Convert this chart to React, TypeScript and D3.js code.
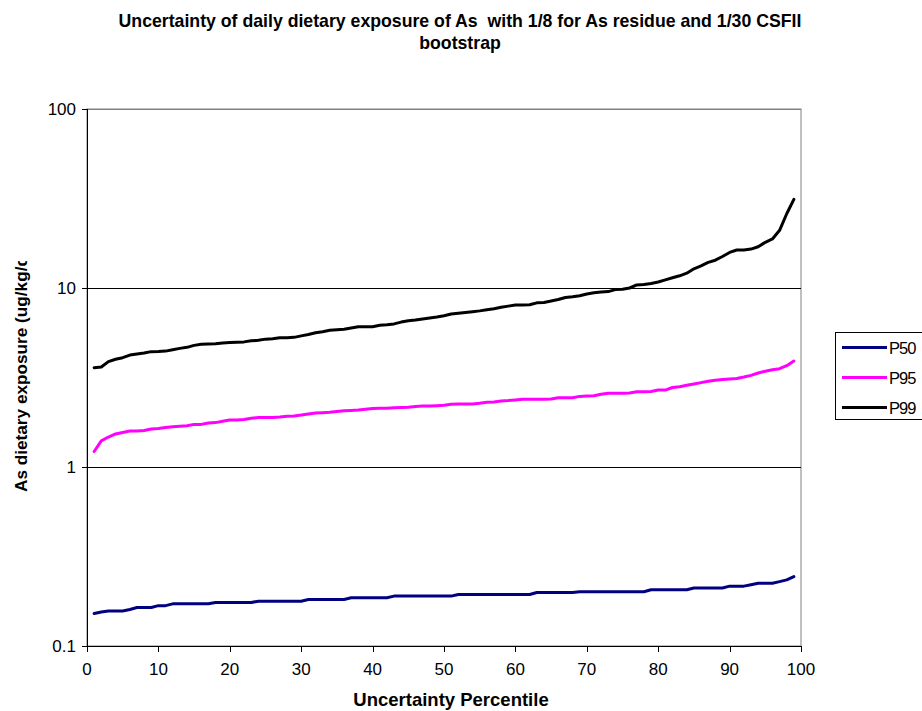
import React from "react";
import * as d3 from "d3";

const percentiles: number[] = Array.from({ length: 99 }, (_, i) => i + 1);

const p50: number[] = [
  0.152, 0.155, 0.157, 0.157, 0.157, 0.160, 0.164, 0.164, 0.164, 0.168,
  0.168, 0.172, 0.172, 0.172, 0.172, 0.172, 0.172, 0.175, 0.175, 0.175,
  0.175, 0.175, 0.175, 0.178, 0.178, 0.178, 0.178, 0.178, 0.178, 0.178,
  0.182, 0.182, 0.182, 0.182, 0.182, 0.182, 0.186, 0.186, 0.186, 0.186,
  0.186, 0.186, 0.190, 0.190, 0.190, 0.190, 0.190, 0.190, 0.190, 0.190,
  0.190, 0.194, 0.194, 0.194, 0.194, 0.194, 0.194, 0.194, 0.194, 0.194,
  0.194, 0.194, 0.199, 0.199, 0.199, 0.199, 0.199, 0.199, 0.201, 0.201,
  0.201, 0.201, 0.201, 0.201, 0.201, 0.201, 0.201, 0.201, 0.206, 0.206,
  0.206, 0.206, 0.206, 0.206, 0.211, 0.211, 0.211, 0.211, 0.211, 0.216,
  0.216, 0.216, 0.220, 0.224, 0.224, 0.224, 0.229, 0.234, 0.244,
];

const p95: number[] = [
  1.22, 1.40, 1.47, 1.53, 1.56, 1.59, 1.59, 1.60, 1.63, 1.64,
  1.66, 1.68, 1.69, 1.70, 1.73, 1.73, 1.76, 1.77, 1.80, 1.83,
  1.83, 1.84, 1.87, 1.89, 1.89, 1.89, 1.90, 1.92, 1.93, 1.95,
  1.98, 2.00, 2.01, 2.02, 2.04, 2.06, 2.07, 2.08, 2.10, 2.12,
  2.13, 2.13, 2.14, 2.15, 2.16, 2.18, 2.19, 2.19, 2.20, 2.21,
  2.24, 2.25, 2.25, 2.25, 2.27, 2.30, 2.31, 2.34, 2.35, 2.37,
  2.39, 2.39, 2.39, 2.39, 2.40, 2.44, 2.44, 2.44, 2.48, 2.49,
  2.50, 2.55, 2.58, 2.58, 2.58, 2.59, 2.63, 2.63, 2.64, 2.69,
  2.69, 2.78, 2.81, 2.86, 2.91, 2.96, 3.01, 3.05, 3.08, 3.10,
  3.12, 3.18, 3.25, 3.35, 3.43, 3.49, 3.54, 3.68, 3.91,
];

const p99: number[] = [
  3.59, 3.62, 3.88, 4.00, 4.08, 4.22, 4.28, 4.33, 4.41, 4.42,
  4.44, 4.52, 4.60, 4.66, 4.78, 4.85, 4.87, 4.88, 4.93, 4.96,
  4.98, 5.00, 5.07, 5.10, 5.18, 5.20, 5.27, 5.28, 5.30, 5.40,
  5.50, 5.62, 5.70, 5.80, 5.84, 5.88, 5.98, 6.08, 6.08, 6.08,
  6.20, 6.24, 6.30, 6.45, 6.56, 6.62, 6.72, 6.80, 6.88, 7.00,
  7.15, 7.22, 7.30, 7.37, 7.45, 7.55, 7.65, 7.80, 7.92, 8.04,
  8.04, 8.06, 8.26, 8.30, 8.45, 8.62, 8.85, 8.94, 9.05, 9.25,
  9.40, 9.50, 9.55, 9.80, 9.85, 10.0, 10.4, 10.45, 10.6, 10.8,
  11.1, 11.4, 11.7, 12.1, 12.8, 13.3, 13.9, 14.3, 15.0, 15.8,
  16.3, 16.3, 16.5, 17.0, 18.0, 18.8, 21.0, 26.0, 31.3,
];

const seriesNames: string[] = ["P50", "P95", "P99"];
const seriesColors: string[] = ["#000080", "#FF00FF", "#000000"];
const xTicks: number[] = [0, 10, 20, 30, 40, 50, 60, 70, 80, 90, 100];
const yTicks: number[] = [0.1, 1, 10, 100];
const yTickLabels: string[] = ["0.1", "1", "10", "100"];

const titleLine1 = "Uncertainty of daily dietary exposure of As  with 1/8 for As residue and 1/30 CSFII";
const titleLine2 = "bootstrap";
const xTitle = "Uncertainty Percentile";
const yTitle = "As dietary exposure (ug/kg/day)";

const W = 922;
const H = 711;
const L = 87;
const R = 801;
const T = 109;
const B = 646;
const FONT = "Arial, 'Liberation Sans', sans-serif";

export default function App() {
  const x = d3.scaleLinear().domain([0, 100]).range([L, R]);
  const y = d3.scaleLog().domain([0.1, 100]).range([B, T]);
  const allSeries = [p50, p95, p99];
  const line = d3
    .line<number>()
    .x((_, i) => x(percentiles[i]))
    .y((v) => y(v));

  return (
    <svg
      width={W}
      height={H}
      style={{ position: "absolute", left: 0, top: 0, background: "#fff" }}
      fontFamily={FONT}
    >
      <defs>
        <clipPath id="ytclip">
          <rect x={0} y={261} width={60} height={300} />
        </clipPath>
      </defs>
      <rect x={0} y={0} width={W} height={H} fill="#fff" />
      {/* title */}
      <text x={460} y={27} textAnchor="middle" fontWeight="bold" fontSize={17.7} fill="#000" style={{ whiteSpace: "pre" }}>
        {titleLine1}
      </text>
      <text x={460} y={49} textAnchor="middle" fontWeight="bold" fontSize={17.7} fill="#000">
        {titleLine2}
      </text>

      {/* plot border */}
      <rect x={L} y={T} width={R - L} height={B - T} fill="none" stroke="#808080" strokeWidth={1} />
      {/* gridlines */}
      {yTicks.map((t) => (
        <line key={"g" + t} x1={L} x2={R} y1={Math.round(y(t)) + 0.5} y2={Math.round(y(t)) + 0.5}
          stroke={t === 100 ? "#808080" : "#000"} strokeWidth={1} />
      ))}
      {/* axes */}
      <line x1={L + 0.5} x2={L + 0.5} y1={T} y2={B + 0.5} stroke="#000" strokeWidth={1} />
      <line x1={L} x2={R} y1={B + 0.5} y2={B + 0.5} stroke="#000" strokeWidth={1} />
      {yTicks.map((t, i) => (
        <g key={"yt" + t}>
          <line x1={L - 5} x2={L} y1={Math.round(y(t)) + 0.5} y2={Math.round(y(t)) + 0.5} stroke="#000" />
          <text x={76} y={y(t) + 6} textAnchor="end" fontSize={17} fill="#000">
            {yTickLabels[i]}
          </text>
        </g>
      ))}
      {xTicks.map((t) => (
        <g key={"xt" + t}>
          <line x1={Math.round(x(t)) + 0.5} x2={Math.round(x(t)) + 0.5} y1={B} y2={B + 6} stroke="#000" />
          <text x={x(t)} y={675} textAnchor="middle" fontSize={17} fill="#000">
            {t}
          </text>
        </g>
      ))}

      {/* series */}
      {allSeries.map((s, i) => (
        <path key={seriesNames[i]} d={line(s) || ""} fill="none" stroke={seriesColors[i]}
          strokeWidth={3} strokeLinejoin="round" strokeLinecap="round" />
      ))}

      {/* axis titles */}
      <text x={451} y={706} textAnchor="middle" fontWeight="bold" fontSize={18.5} fill="#000">
        {xTitle}
      </text>
      <g clipPath="url(#ytclip)">
        <text transform="translate(27,492) rotate(-90)" textAnchor="start" fontWeight="bold" fontSize={17.2} fill="#000">
          {yTitle}
        </text>
      </g>

      {/* legend */}
      <rect x={835.5} y={332.5} width={100} height={87} fill="#fff" stroke="#000" strokeWidth={1} />
      {seriesNames.map((n, i) => (
        <g key={"lg" + n}>
          <line x1={842} x2={887} y1={347.5 + i * 30} y2={347.5 + i * 30} stroke={seriesColors[i]} strokeWidth={3} />
          <text x={889} y={353.5 + i * 30} fontSize={16.5} letterSpacing={-1} fill="#000">
            {n}
          </text>
        </g>
      ))}
    </svg>
  );
}
